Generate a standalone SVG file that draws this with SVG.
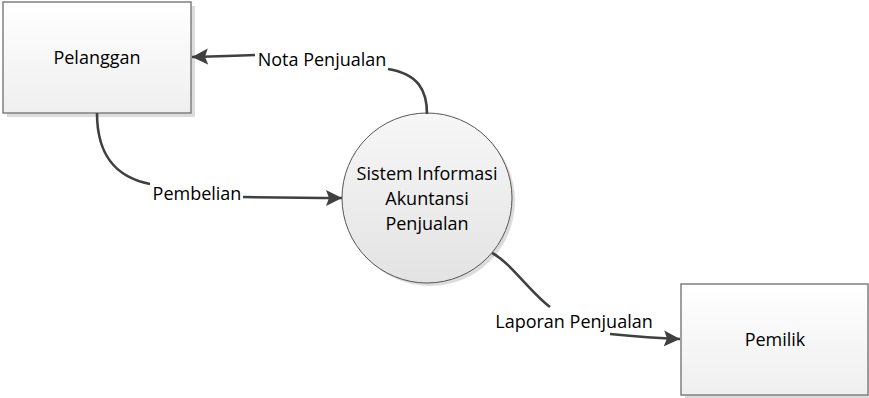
<svg xmlns="http://www.w3.org/2000/svg" width="869" height="398" viewBox="0 0 869 398">
<defs>
<linearGradient id="boxg" x1="0" y1="0" x2="0" y2="1"><stop offset="0" stop-color="#ffffff"/><stop offset="1" stop-color="#efefef"/></linearGradient>
<linearGradient id="circg" x1="0" y1="0" x2="0" y2="1"><stop offset="0" stop-color="#f7f7f7"/><stop offset="1" stop-color="#e3e3e3"/></linearGradient>
<marker id="arr" markerUnits="userSpaceOnUse" markerWidth="18" markerHeight="18" refX="16" refY="8" orient="auto" viewBox="0 0 18 16">
<path d="M0,0 L16,8 L0,16 L3,8 Z" fill="#404040"/>
</marker>
<style>
text{font-family:"Open Sans","Noto Sans","Liberation Sans",sans-serif;font-size:18px;fill:#000;text-anchor:middle}
.box{fill:url(#boxg);stroke:#808080;stroke-width:1.5}
.shadow{fill:#dcdcdc}
.proc{fill:url(#circg);stroke:#555;stroke-width:1}
.conn{fill:none;stroke:#404040;stroke-width:2.6}
</style>
</defs>
<g id="pelanggan">
<rect class="shadow" x="7" y="6" width="188" height="111"/>
<rect class="box" x="3" y="2" width="188" height="111"/>
<text x="97" y="64">Pelanggan</text>
</g>
<g id="sistem">
<circle class="shadow" cx="430" cy="201" r="85"/>
<circle class="proc" cx="427" cy="198" r="85"/>
<text x="427" y="180">Sistem Informasi</text>
<text x="427" y="205">Akuntansi</text>
<text x="427" y="230">Penjualan</text>
</g>
<g id="pemilik">
<rect class="shadow" x="685" y="288" width="187" height="111"/>
<rect class="box" x="681" y="284" width="187" height="111"/>
<text x="775" y="346">Pemilik</text>
</g>
<g id="connectors">
<path class="conn" d="M427,114 C427,90 418,74 388,69"/>
<path class="conn" d="M255,55 Q230,56 192,57" marker-end="url(#arr)"/>
<text x="322" y="66">Nota Penjualan</text>
<path class="conn" d="M97,113 C97,160 120,178 150,184"/>
<path class="conn" d="M243,197 Q300,198 342,198" marker-end="url(#arr)"/>
<text x="197" y="200">Pembelian</text>
<path class="conn" d="M492,253 C510,262 530,292 550,307"/>
<path class="conn" d="M610,334 Q650,338 680,339" marker-end="url(#arr)"/>
<text x="574" y="328">Laporan Penjualan</text>
</g>
</svg>
